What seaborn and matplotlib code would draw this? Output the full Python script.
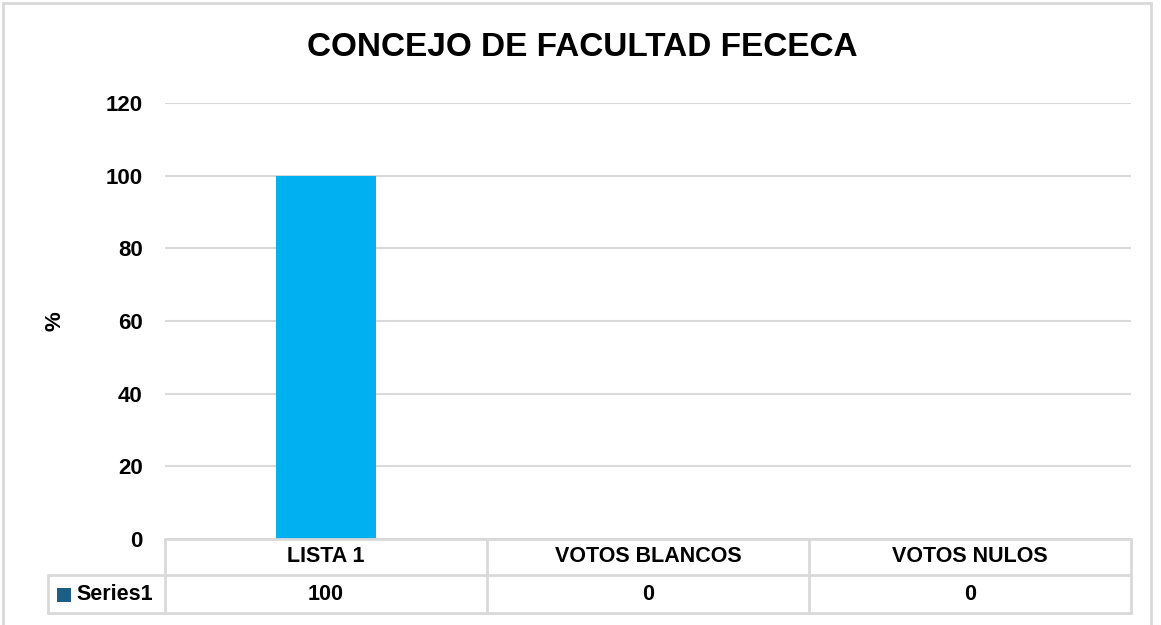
import matplotlib
matplotlib.use("Agg")
import matplotlib.pyplot as plt
import seaborn as sns
import pandas as pd
from matplotlib.patches import Rectangle
from matplotlib.lines import Line2D

categories = ["LISTA 1", "VOTOS BLANCOS", "VOTOS NULOS"]
values = [100, 0, 0]
series_name = "Series1"
title = "CONCEJO DE FACULTAD FECECA"
y_ticks = [0, 20, 40, 60, 80, 100, 120]
y_label = "%"

sns.set_theme(style="white")
plt.rcParams['font.family'] = ['Liberation Sans', 'DejaVu Sans']
plt.rcParams['font.weight'] = 'bold'

W, H = 1161, 625
fig = plt.figure(figsize=(W / 100, H / 100), dpi=100)

def fx(px):
    return px / W

def fy(py):
    return 1 - py / H

FS = 15.5

# axes area
ax_l, ax_r, ax_t, ax_b = 165, 1131, 103, 539
ax = fig.add_axes([fx(ax_l), fy(ax_b), fx(ax_r - ax_l), (ax_b - ax_t) / H])

df = pd.DataFrame({"cat": categories, "val": values})
sns.barplot(data=df, x="cat", y="val", order=categories, color="#00B0F0",
            saturation=1, width=0.31, linewidth=0, ax=ax)
ax.set_xlim(-0.5, len(categories) - 0.5)
ax.set_ylim(0, 120)
ax.set_yticks(y_ticks)
ax.set_yticklabels([str(t) for t in y_ticks], fontsize=16, fontweight='bold', color='black')
ax.tick_params(axis='y', length=0, pad=16, labelcolor='black')
ax.set_xticks([])
ax.set_xlabel("")
ax.set_ylabel("")
for s in ax.spines.values():
    s.set_visible(False)
ax.yaxis.grid(True, color="#d9d9d9", linewidth=1.5)
ax.set_axisbelow(True)

fig.text(fx(55), fy(321), y_label, rotation=90, ha='center', va='center',
         fontsize=16, fontweight='bold', color='black')
fig.text(fx(582), fy(48), title, ha='center', va='center', fontsize=24,
         fontweight='bold', color='black')

# outer border
fig.add_artist(Rectangle((fx(3), fy(640)), fx(1151 - 3), (640 - 3) / H,
                         transform=fig.transFigure, fill=False,
                         edgecolor="#d9d9d9", linewidth=2))

# data table
gc = "#d9d9d9"
lw = 2
col_edges = [165, 487, 809, 1131]
row_top, row_mid, row_bot = 539, 575, 613
leg_l = 48

def hline(x0, x1, y):
    fig.add_artist(Line2D([fx(x0), fx(x1)], [fy(y), fy(y)], transform=fig.transFigure,
                          color=gc, linewidth=lw))

def vline(x, y0, y1):
    fig.add_artist(Line2D([fx(x), fx(x)], [fy(y0), fy(y1)], transform=fig.transFigure,
                          color=gc, linewidth=lw))

hline(col_edges[0], col_edges[-1], row_top)
hline(leg_l, col_edges[-1], row_mid)
hline(leg_l, col_edges[-1], row_bot)
for x in col_edges:
    vline(x, row_top, row_bot)
vline(leg_l, row_mid, row_bot)

for i, (c, v) in enumerate(zip(categories, values)):
    cx = (col_edges[i] + col_edges[i + 1]) / 2
    fig.text(fx(cx), fy((row_top + row_mid) / 2), c, ha='center', va='center',
             fontsize=FS, fontweight='bold', color='black')
    fig.text(fx(cx), fy((row_mid + row_bot) / 2), str(v), ha='center', va='center',
             fontsize=FS, fontweight='bold', color='black')

# legend key + series name
fig.add_artist(Rectangle((fx(57), fy(602)), fx(14), 14 / H, transform=fig.transFigure,
                         facecolor="#1B5E86", edgecolor='none'))
fig.text(fx(76), fy((row_mid + row_bot) / 2), series_name, ha='left', va='center',
         fontsize=FS, fontweight='bold', color='black')

fig.savefig("out.png", dpi=100)
